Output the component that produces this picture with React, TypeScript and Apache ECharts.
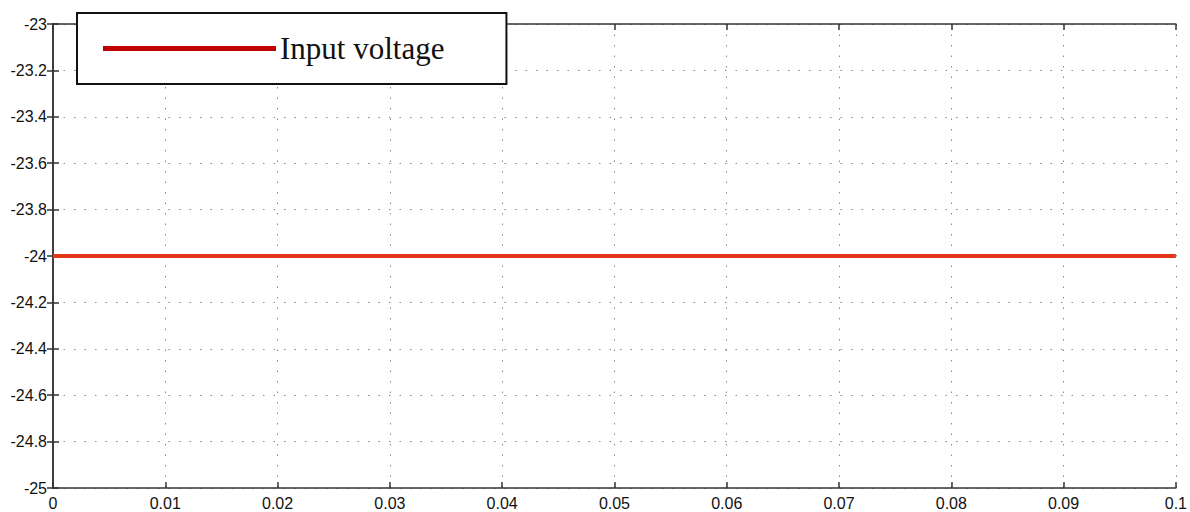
import React, { useEffect, useRef } from "react";
import * as echarts from "echarts";

const time = [0, 0.02, 0.04, 0.06, 0.08, 0.1];
const inputVoltage = [-24, -24, -24, -24, -24, -24];
const seriesName = "Input voltage";

export default function App() {
  const ref = useRef<HTMLDivElement>(null);
  useEffect(() => {
    document.body.style.margin = "0";
    const chart = echarts.init(ref.current!, null, { renderer: "svg" });
    const axisLine = { show: true, lineStyle: { color: "#333", width: 1.5 } };
    const split = { show: true, lineStyle: { color: "#8a8a8a", width: 1, type: [1.5, 9] as any } };
    const fmtY = (v: number) => String(parseFloat(v.toFixed(1)));
    const tick = { show: true, inside: true, length: 6, lineStyle: { color: "#333", width: 1.5 } };
    chart.setOption({
      animation: false,
      backgroundColor: "#fff",
      grid: { left: 53, right: 14, top: 24, bottom: 24, containLabel: false },
      legend: {
        left: 77,
        top: 13,
        orient: "horizontal",
        data: [{ name: seriesName, itemStyle: { color: "#c00000" } }],
        icon: "rect",
        itemWidth: 173,
        itemHeight: 5,
        itemGap: 0,
        padding: [20, 62, 20, 26],
        borderColor: "#111",
        borderWidth: 2,
        backgroundColor: "#fff",
        textStyle: { fontFamily: "Liberation Serif", fontSize: 31, color: "#111", padding: [0, 0, 0, -1] },
      },
      xAxis: [
        {
          type: "value",
          min: 0,
          max: 0.1,
          interval: 0.01,
          axisLine,
          axisTick: tick,
          axisLabel: { fontFamily: "Liberation Sans", fontSize: 16, color: "#111", margin: 7, formatter: (v: number) => String(parseFloat(v.toFixed(2))) },
          splitLine: split,
        },
        {
          type: "value",
          position: "top",
          min: 0,
          max: 0.1,
          interval: 0.01,
          axisLine,
          axisTick: tick,
          axisLabel: { show: false },
          splitLine: { show: false },
        },
      ],
      yAxis: [
        {
          type: "value",
          min: -25,
          max: -23,
          interval: 0.2,
          axisLine,
          axisTick: tick,
          axisLabel: { fontFamily: "Liberation Sans", fontSize: 16, color: "#111", margin: 6, formatter: fmtY },
          splitLine: split,
        },
        {
          type: "value",
          position: "right",
          min: -25,
          max: -23,
          interval: 0.2,
          axisLine,
          axisTick: tick,
          axisLabel: { show: false },
          splitLine: { show: false },
        },
      ],
      series: [
        {
          name: seriesName,
          type: "line",
          data: time.map((t, i) => [t, inputVoltage[i]]),
          showSymbol: false,
          lineStyle: { color: "#e2351c", width: 4 },
          itemStyle: { color: "#e2351c" },
        },
      ],
    });
    return () => chart.dispose();
  }, []);
  return <div ref={ref} style={{ width: 1190, height: 512 }} />;
}
